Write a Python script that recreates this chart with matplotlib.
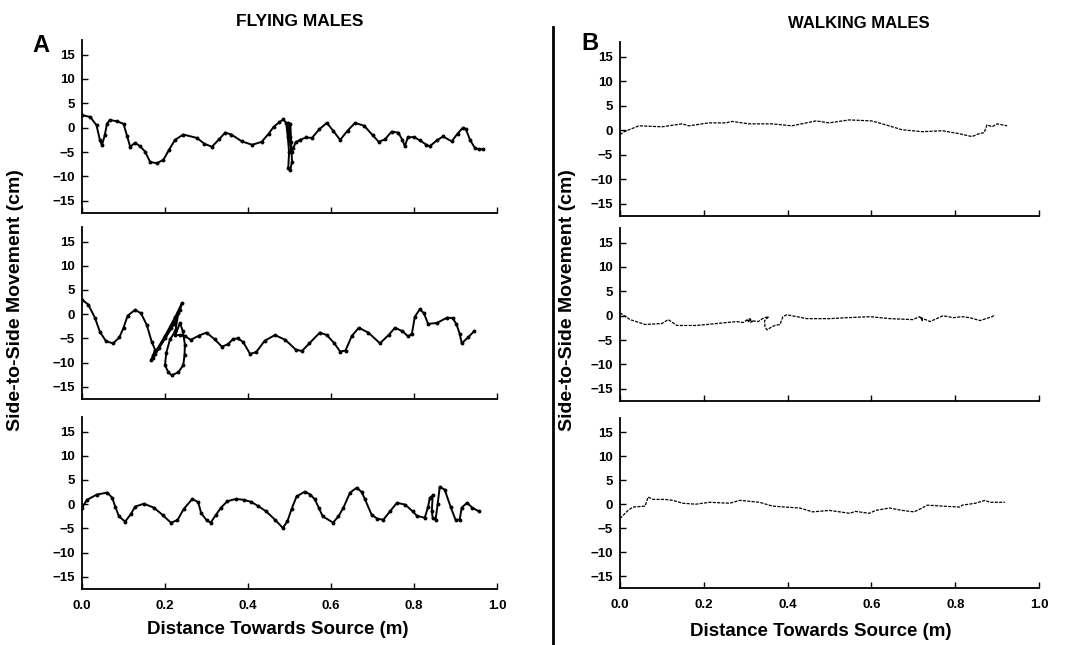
import numpy as np
import matplotlib.pyplot as plt

plt.rcParams['font.family'] = ['Liberation Sans', 'DejaVu Sans']

# flying males (panel A), three tracks: distance (m) vs side-to-side (cm)
fly1_x = [0.000, 0.020, 0.035, 0.043, 0.048, 0.055, 0.060, 0.067, 0.085, 0.100,
          0.109, 0.116, 0.128, 0.140, 0.152, 0.164, 0.180, 0.196, 0.210, 0.224,
          0.244, 0.277, 0.295, 0.313, 0.330, 0.345, 0.360, 0.385, 0.410, 0.433,
          0.450, 0.462, 0.475, 0.485, 0.492, 0.496, 0.499, 0.497, 0.502, 0.506,
          0.504, 0.502, 0.497, 0.500, 0.505, 0.509, 0.515, 0.525, 0.540, 0.554,
          0.572, 0.590, 0.605, 0.622, 0.640, 0.658, 0.680, 0.700, 0.715, 0.730,
          0.746, 0.762, 0.772, 0.778, 0.785, 0.800, 0.814, 0.830, 0.838, 0.855,
          0.870, 0.891, 0.905, 0.918, 0.925, 0.935, 0.947, 0.957, 0.967]
fly1_y = [2.6, 2.2, 0.5, -2.5, -3.6, -1.5, 0.8, 1.6, 1.3, 0.8,
          -1.8, -3.9, -3.1, -3.8, -4.9, -7.0, -7.3, -6.6, -4.5, -2.5,
          -1.4, -2.1, -3.3, -3.9, -2.4, -1.0, -1.4, -2.8, -3.5, -2.9,
          -1.2, 0.2, 1.1, 1.7, 1.0, -2.0, -5.0, -8.3, -8.6, -7.0,
          -3.0, 0.8, 1.0, -2.0, -5.0, -4.2, -3.0, -2.5, -2.0, -2.1,
          -0.3, 1.0, -0.6, -2.5, -0.6, 1.0, 0.4, -1.5, -2.9, -2.4,
          -0.8, -1.0, -2.5, -3.8, -2.0, -1.9, -2.6, -3.5, -3.8, -2.6,
          -1.8, -2.8, -1.2, 0.0, -0.3, -2.5, -4.2, -4.4, -4.4]

fly2_x = [0.000, 0.015, 0.031, 0.043, 0.058, 0.075, 0.090, 0.100, 0.110, 0.128,
          0.142, 0.156, 0.168, 0.176, 0.170, 0.166, 0.172, 0.200, 0.225, 0.241,
          0.236, 0.215, 0.185, 0.176, 0.200, 0.222, 0.232, 0.225, 0.212, 0.203,
          0.200, 0.208, 0.216, 0.232, 0.244, 0.247, 0.248, 0.243, 0.236, 0.225,
          0.235, 0.248, 0.262, 0.282, 0.300, 0.320, 0.337, 0.352, 0.364, 0.375,
          0.388, 0.405, 0.420, 0.440, 0.465, 0.490, 0.515, 0.530, 0.548, 0.573,
          0.590, 0.608, 0.622, 0.635, 0.650, 0.667, 0.690, 0.718, 0.740, 0.754,
          0.772, 0.786, 0.795, 0.802, 0.814, 0.824, 0.834, 0.855, 0.880, 0.893,
          0.902, 0.910, 0.915, 0.930, 0.945]
fly2_y = [3.0, 2.0, -0.7, -3.6, -5.6, -6.0, -4.8, -2.8, -0.3, 0.9,
          0.2, -2.2, -5.7, -7.3, -9.0, -9.5, -8.5, -4.5, -0.5, 2.3,
          0.8, -2.8, -7.0, -8.3, -5.0, -2.0, 0.2, -3.5, -5.2, -8.0,
          -10.5, -12.0, -12.6, -12.0, -10.5, -8.5, -6.3, -3.5, -1.8, -4.3,
          -4.3, -4.5, -5.3, -4.4, -3.8, -5.2, -6.7, -6.2, -5.1, -5.0,
          -5.7, -8.2, -7.8, -5.5, -4.3, -5.3, -7.3, -7.6, -6.0, -3.8,
          -4.3, -6.0, -7.7, -7.5, -4.5, -2.8, -3.8, -6.0, -4.2, -2.8,
          -3.5, -4.6, -4.0, -0.5, 1.0, 0.2, -2.0, -1.8, -0.7, -0.8,
          -2.0, -4.0, -6.0, -4.8, -3.5]

fly3_x = [0.000, 0.012, 0.036, 0.061, 0.073, 0.080, 0.089, 0.104, 0.118, 0.128,
          0.149, 0.173, 0.194, 0.214, 0.230, 0.245, 0.266, 0.280, 0.287, 0.300,
          0.310, 0.322, 0.335, 0.350, 0.371, 0.390, 0.407, 0.425, 0.444, 0.465,
          0.484, 0.495, 0.505, 0.517, 0.537, 0.550, 0.561, 0.571, 0.580, 0.605,
          0.618, 0.630, 0.646, 0.662, 0.674, 0.682, 0.698, 0.712, 0.726, 0.742,
          0.759, 0.779, 0.797, 0.807, 0.826, 0.834, 0.838, 0.845, 0.843, 0.845,
          0.852, 0.857, 0.862, 0.874, 0.888, 0.900, 0.910, 0.915, 0.928, 0.940,
          0.957]
fly3_y = [-0.7, 0.9, 2.0, 2.4, 1.3, -0.5, -2.5, -3.6, -2.0, -0.5,
          0.1, -0.7, -2.2, -3.8, -3.3, -1.0, 1.1, 0.4, -1.8, -3.3,
          -3.8, -2.3, -0.7, 0.6, 1.1, 0.9, 0.5, -0.4, -1.5, -3.2,
          -4.9, -3.5, -1.0, 1.6, 2.6, 2.0, 1.0, -0.8, -2.5, -3.8,
          -2.5, -0.7, 2.4, 3.4, 2.5, 1.0, -2.2, -3.0, -3.2, -1.5,
          0.3, -0.1, -1.5, -2.4, -2.8, -0.5, 1.3, 1.8, -1.5, -2.8,
          -3.2, 0.0, 3.6, 3.0, -0.5, -3.2, -3.2, -0.7, 0.3, -0.7,
          -1.5]

# walking males (panel B)
walk1_x = [0.000, 0.010, 0.045, 0.100, 0.148, 0.165, 0.212, 0.253, 0.267, 0.308,
           0.363, 0.410, 0.468, 0.499, 0.547, 0.601, 0.642, 0.673, 0.721, 0.769,
           0.809, 0.840, 0.857, 0.869, 0.876, 0.888, 0.900, 0.924]
walk1_y = [-0.9, -0.3, 0.9, 0.7, 1.3, 0.9, 1.5, 1.5, 1.8, 1.3,
           1.3, 0.9, 1.9, 1.5, 2.1, 1.9, 0.9, 0.1, -0.3, -0.1,
           -0.7, -1.3, -0.7, -0.5, 1.1, 0.7, 1.3, 0.9]

walk2_x = [0.000, 0.024, 0.060, 0.100, 0.115, 0.136, 0.183, 0.231, 0.279, 0.294,
           0.303, 0.310, 0.316, 0.310, 0.303, 0.330, 0.340, 0.346, 0.355, 0.345,
           0.346, 0.351, 0.362, 0.370, 0.382, 0.386, 0.389, 0.398, 0.410, 0.446,
           0.501, 0.542, 0.597, 0.644, 0.699, 0.715, 0.722, 0.718, 0.740, 0.771,
           0.795, 0.816, 0.835, 0.859, 0.888, 0.895]
walk2_y = [0.6, -0.8, -1.8, -1.6, -0.8, -2.0, -2.0, -1.6, -1.2, -1.4,
           -0.9, -0.6, -1.2, -1.4, -0.9, -1.2, -0.6, -0.4, -0.2, -1.0,
           -2.3, -2.9, -2.3, -2.0, -1.8, -0.8, -0.2, 0.2, 0.0, -0.6,
           -0.6, -0.4, -0.2, -0.6, -0.8, -0.2, -1.0, -0.4, -1.2, 0.0,
           -0.4, -0.2, -0.4, -1.0, -0.2, 0.2]

walk3_x = [0.000, 0.019, 0.031, 0.060, 0.067, 0.079, 0.107, 0.126, 0.150, 0.181,
           0.214, 0.262, 0.286, 0.333, 0.364, 0.395, 0.429, 0.460, 0.500, 0.548,
           0.562, 0.595, 0.610, 0.643, 0.674, 0.702, 0.721, 0.733, 0.769, 0.810,
           0.817, 0.848, 0.871, 0.883, 0.905, 0.919]
walk3_y = [-3.0, -1.3, -0.6, -0.4, 1.5, 1.0, 1.0, 0.8, 0.2, 0.0,
           0.4, 0.2, 0.8, 0.4, -0.4, -0.6, -0.8, -1.6, -1.3, -1.9,
           -1.5, -1.9, -1.3, -0.8, -1.3, -1.6, -0.8, -0.2, -0.4, -0.6,
           -0.2, 0.2, 0.8, 0.4, 0.4, 0.4]

fly_tracks = [(fly1_x, fly1_y), (fly2_x, fly2_y), (fly3_x, fly3_y)]
walk_tracks = [(walk1_x, walk1_y), (walk2_x, walk2_y), (walk3_x, walk3_y)]

y_ticks = [15, 10, 5, 0, -5, -10, -15]
x_ticks = [0.0, 0.2, 0.4, 0.6, 0.8, 1.0]

W, H = 1066, 645
fig = plt.figure(figsize=(W / 100, H / 100), dpi=100)


def px_axes(left, right, top, bottom):
    return fig.add_axes([left / W, 1 - bottom / H, (right - left) / W, (bottom - top) / H])


def style(ax, show_x, weight):
    ax.set_xlim(0, 1.0)
    ax.set_ylim(-17.5, 18)
    ax.spines['top'].set_visible(False)
    ax.spines['right'].set_visible(False)
    for s in ['left', 'bottom']:
        ax.spines[s].set_linewidth(1.3)
    ax.set_yticks(y_ticks)
    ax.set_yticklabels([str(v).replace('-', '\u2212') for v in y_ticks],
                       fontsize=9.5, fontweight=weight)
    ax.set_xticks(x_ticks)
    if show_x:
        ax.set_xticklabels(['%.1f' % v for v in x_ticks], fontsize=9.5, fontweight=weight)
    else:
        ax.set_xticklabels([])
    ax.tick_params(direction='in', length=4, width=1)
    ax.tick_params(axis='y', pad=5)
    ax.tick_params(axis='x', pad=8)


left_rows = [(40, 213), (227, 399), (417, 589)]
right_rows = [(42, 216), (228, 401), (418, 588)]

for (top, bot), (tx, ty), i in zip(left_rows, fly_tracks, range(3)):
    ax = px_axes(82, 497, top, bot)
    ax.plot(tx, ty, color='black', lw=1.4, marker='o', ms=1.8)
    style(ax, i == 2, 'bold')

for (top, bot), (tx, ty), i in zip(right_rows, walk_tracks, range(3)):
    ax = px_axes(620, 1039, top, bot)
    ax.plot(tx, ty, color='black', lw=0.9, ls=(0, (2.5, 1)))
    style(ax, i == 2, 'bold')

# titles, panel letters, shared labels
fig.text(300 / W, 1 - 21 / H, 'FLYING MALES', ha='center', va='center', fontsize=12.5, fontweight='bold')
fig.text(859 / W, 1 - 23 / H, 'WALKING MALES', ha='center', va='center', fontsize=12, fontweight='bold')
fig.text(41 / W, 1 - 45 / H, 'A', ha='center', va='center', fontsize=17, fontweight='bold')
fig.text(590 / W, 1 - 44 / H, 'B', ha='center', va='center', fontsize=17, fontweight='bold')
fig.text(278 / W, 1 - 629 / H, 'Distance Towards Source (m)', ha='center', va='center',
         fontsize=13.5, fontweight='bold')
fig.text(821 / W, 1 - 631 / H, 'Distance Towards Source (m)', ha='center', va='center',
         fontsize=13.5, fontweight='bold')
fig.text(16 / W, 1 - 300 / H, 'Side-to-Side Movement (cm)', ha='center', va='center',
         rotation=90, fontsize=14, fontweight='bold')
fig.text(568 / W, 1 - 300 / H, 'Side-to-Side Movement (cm)', ha='center', va='center',
         rotation=90, fontsize=14, fontweight='bold')

# vertical divider between the two columns
fig.add_artist(plt.Line2D([553 / W, 553 / W], [1 - 27 / H, 1 - 644 / H], color='black', lw=2))

fig.savefig('out.png', dpi=100)
